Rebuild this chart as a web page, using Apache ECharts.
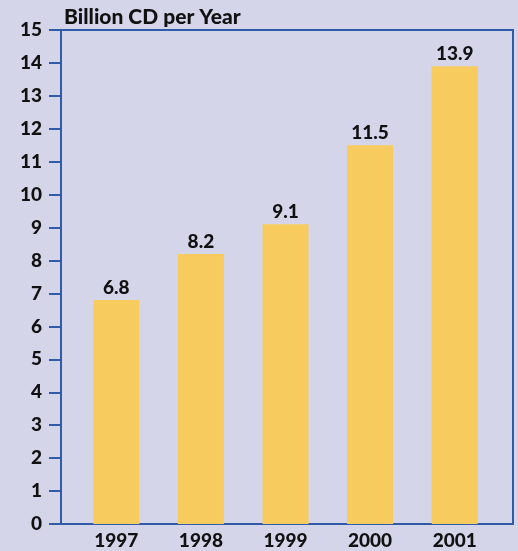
<!DOCTYPE html>
<html><head><meta charset="utf-8">
<script src="https://cdn.jsdelivr.net/npm/echarts@6/dist/echarts.min.js"></script>
<style>html,body{margin:0;padding:0;background:#d5d5ea;}#c{width:518px;height:551px;}</style>
</head><body><div id="c"></div>
<script>
var categories = ['1997', '1998', '1999', '2000', '2001'];
var values = [6.8, 8.2, 9.1, 11.5, 13.9];
var valueLabels = ['6.8', '8.2', '9.1', '11.5', '13.9'];
var yTitle = 'Billion CD per Year';

var FONT = 'Lato';
var W = 900;
var BLUE = '#2f5ba8';
var chart = echarts.init(document.getElementById('c'));
chart.setOption({
  backgroundColor: '#d5d5ea',
  animation: false,
  title: {
    text: yTitle, left: 59, top: 2,
    textStyle: {fontFamily: FONT, fontWeight: W, fontSize: 21, color: '#111'}
  },
  grid: [
    {left: 61, right: 5, top: 30, bottom: 27, show: true, borderColor: BLUE, borderWidth: 2, backgroundColor: 'transparent'},
    {left: 74, right: 21, top: 30, bottom: 27}
  ],
  xAxis: [
    {type: 'value', gridIndex: 0, min: 0, max: 1, show: false},
    {type: 'category', gridIndex: 1, data: categories,
     axisLine: {show: false}, axisTick: {show: false},
     axisLabel: {fontFamily: FONT, fontWeight: W, fontSize: 19, color: '#111', margin: 7}}
  ],
  yAxis: [
    {type: 'value', gridIndex: 0, min: 0, max: 15, interval: 1,
     axisLine: {show: true, lineStyle: {color: BLUE, width: 2}},
     axisTick: {show: true, inside: false, length: 12, lineStyle: {color: BLUE, width: 2}},
     splitLine: {show: false},
     axisLabel: {fontFamily: FONT, fontWeight: W, fontSize: 19, color: '#111', margin: 19}},
    {type: 'value', gridIndex: 1, min: 0, max: 15, show: false, splitLine: {show: false}}
  ],
  series: [{
    type: 'bar', xAxisIndex: 1, yAxisIndex: 1, barWidth: 46,
    data: values,
    itemStyle: {color: '#f7cb5d'},
    label: {show: true, position: 'top', distance: 3,
      formatter: function (p) { return valueLabels[p.dataIndex]; },
      fontFamily: FONT, fontWeight: W, fontSize: 19, color: '#111'}
  }]
});
</script></body></html>
